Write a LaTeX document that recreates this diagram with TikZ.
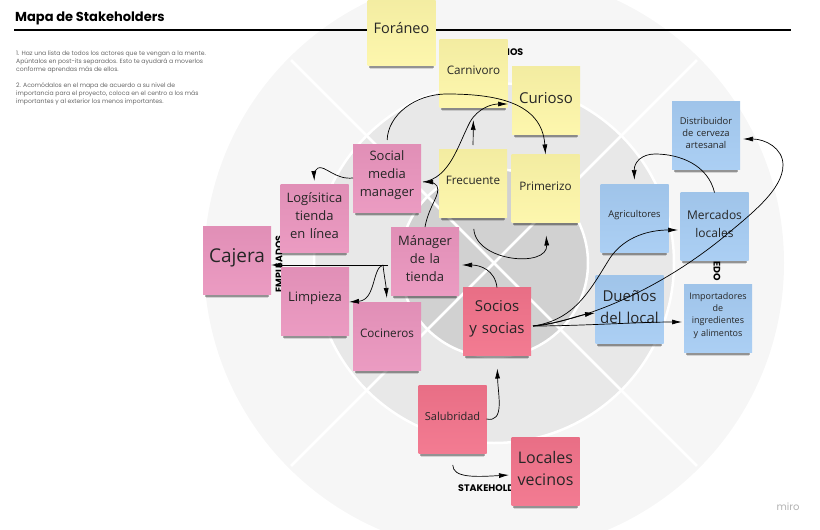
\documentclass[tikz,border=0pt]{standalone}
\usepackage{fontspec}
\setmainfont{Open Sans}
\newfontfamily\titlefont{Poppins}
\usetikzlibrary{arrows.meta, shadows}

\definecolor{yellownote}{HTML}{FDF6A8}
\definecolor{pinknote}{HTML}{EA95BE}
\definecolor{bluenote}{HTML}{A6CCF3}
\definecolor{rednote}{HTML}{F2738B}
\newcommand{\notegap}{\par\vspace{5pt}}

\begin{document}
\begin{tikzpicture}[
   x=1pt, y=-1pt,
   note/.style={
     rectangle,
     top color=#1!96!black,
     bottom color=#1!94!white,
     inner xsep=1pt,
     inner ysep=0pt,
     outer sep=0pt,
     minimum width=68pt,
     minimum height=68pt,
     text width=66pt,
     align=center,
     text=black!85,
     general shadow={fill=black, opacity=.14, shadow scale=.92, shadow xshift=0pt, shadow yshift=-7pt},
     general shadow={fill=black, opacity=.3, shadow scale=.95, shadow xshift=0pt, shadow yshift=-4.5pt},
     execute at end node=\notegap,
    },
   tiny/.style={font=\fontsize{9.4}{12.3}\selectfont},
   small/.style={font=\fontsize{11.7}{14}\selectfont},
   medium/.style={font=\fontsize{13}{18}\selectfont},
   large/.style={font=\fontsize{15}{22}\selectfont},
   huge/.style={font=\fontsize{19}{22}\selectfont},
   band/.style={font=\titlefont\bfseries\fontsize{9.5}{11}\selectfont, text=black, inner sep=0pt},
   arr/.style={-{Latex[length=10pt,width=5pt]}, black, line width=.7pt},
  ]

\clip (0,0) rectangle (820,530);
\coordinate (centre) at (494,263);

% rings of the map
\fill[black!3.5] (centre) circle [radius=290pt];
\filldraw[fill=black!9, draw=white, line width=2.5pt] (centre) circle [radius=180pt];
\filldraw[fill=black!18, draw=white, line width=2.5pt] (centre) circle [radius=94pt];
\foreach \a in {45,135,225,315} {
  \draw[white, line width=2.5pt] (centre) -- ++(\a:287pt);
}

% heading
\node[anchor=west, inner sep=0pt, font=\titlefont\bfseries\fontsize{13}{15}\selectfont] (title) at (15,18) {Mapa de Stakeholders};
\coordinate (ruleleft) at (14,30);
\coordinate (ruleright) at (791,30);
\draw[black, line width=1.2pt] (ruleleft) -- (ruleright);
\node[anchor=north west, inner sep=0pt, align=left, text=black!60, font=\titlefont\fontsize{6.1}{8}\selectfont] (steps) at (16,50.5) {1. Haz una lista de todos los actores que te vengan a la mente.\\
Apúntalos en post-its separados. Esto te ayudará a moverlos\\
conforme aprendas más de ellos.\\[8pt]
2. Acomódalos en el mapa de acuerdo a su nivel de\\
importancia para el proyecto, coloca en el centro a los más\\
importantes y al exterior los menos importantes.};
\node[text=black!30, inner sep=0pt, font=\titlefont\fontsize{10}{12}\selectfont] (brand) at (788,507) {miro};

% band names, under the notes
\node[band, anchor=west] (clientes) at (507,52) {IOS};
\node[band, rotate=90] (empleados) at (279,264) {EMPLEADOS};
\node[band, rotate=-90, anchor=west] (proveedores) at (717,261) {EDO};
\node[band, anchor=west] (stakeholders) at (458,488) {STAKEHOLD};

% notes
\node[note=yellownote, large, font=\fontsize{14.5}{22}\selectfont] (foraneo) at (401.5,31) {Foráneo};
\node[note=yellownote, small] (carnivoro) at (473.5,73) {Carnivoro};
\node[note=yellownote, large] (curioso) at (546,100.5) {Curioso};
\node[note=yellownote, small] (frecuente) at (473,183) {Frecuente};
\node[note=yellownote, small] (primerizo) at (545.5,188.5) {Primerizo};

\node[note=pinknote, medium] (social) at (387,178) {Social\\media\\manager};
\node[note=pinknote, medium] (logistica) at (314.5,218) {Logísitica\\tienda\\en línea};
\node[note=pinknote, huge] (cajera) at (237,260.5) {Cajera};
\node[note=pinknote, medium] (limpieza) at (315,301) {Limpieza};
\node[note=pinknote, medium] (manager) at (425,261) {Mánager\\de la\\tienda};
\node[note=pinknote, small] (cocineros) at (387,336) {Cocineros};

\node[note=rednote, large] (socios) at (497,321.5) {Socios\\y socias};
\node[note=rednote, small, font=\fontsize{11}{14}\selectfont] (salubridad) at (452.5,419) {Salubridad};
\node[note=rednote, large, font=\fontsize{16}{22}\selectfont] (locales) at (545.5,471) {Locales\\vecinos};

\node[note=bluenote, tiny] (distribuidor) at (706,135.5) {Distribuidor\\de cerveza\\artesanal};
\node[note=bluenote, tiny] (agricultores) at (634.5,218) {Agricultores};
\node[note=bluenote, medium, font=\fontsize{12}{18}\selectfont] (mercados) at (714.5,226.5) {Mercados\\locales};
\node[note=bluenote, large] (duenos) at (629.5,309.5) {Dueños\\del local};
\node[note=bluenote, tiny, font=\fontsize{9}{12.3}\selectfont] (importadores) at (718,318) {Importadores\\de\\ingredientes\\y alimentos};

% free ends
\coordinate (socialin) at (423,182);
\coordinate (curiosoin) at (508,104);
\coordinate (managerout) at (388,265);
\coordinate (managerin) at (462,265);
\coordinate (sociosout) at (533,326);
\coordinate (mercadosin) at (678,230);
\coordinate (distribuidorin) at (743,139);
\coordinate (duenosin) at (595,313);
\coordinate (importadoresin) at (682,322);
\coordinate (localesin) at (509,475);

% connectors
\draw[arr, shorten <=4pt] (social.north) .. controls (388,115) and (415,94) .. (447,94) .. controls (495,94) and (542,102) .. (primerizo.north);
\draw[arr, shorten <=4pt, shorten >=13pt] (frecuente.north) -- (carnivoro.south);
\draw[arr] (socialin) .. controls (450,178) and (458,145) .. (470,122) .. controls (478,108) and (492,104) .. (curiosoin);
\draw[arr] (manager.north) .. controls (429,205) and (441,195) .. (437,186) .. controls (435,183) and (430,182) .. (socialin);
\draw[arr, shorten >=3pt] (social.west) .. controls (335,180) and (325,165) .. (318,168) .. controls (315,170) and (314,175) .. (logistica.north);
\draw[arr] (managerout) -- (managerout -| cajera.east);
\draw[arr] (managerout) ++(-5,0) .. controls (372,268) and (376,300) .. (limpieza.east |- cocineros.north);
\draw[arr, shorten >=4pt] (managerout) ++(-5,0) .. controls (384,275) and (386,285) .. (cocineros.north);
\draw[arr] (socios.north) .. controls (495,270) and (480,265) .. (managerin);
\draw[arr, shorten <=12pt, shorten >=13pt] (frecuente.south) .. controls (476,262) and (548,268) .. (primerizo.south);
\draw[arr, shorten >=4pt] (mercados.north) .. controls (708,165) and (680,154) .. (655,154) .. controls (642,154) and (634,162) .. (agricultores.north);
\draw[arr] (sociosout) .. controls (575,320) and (590,290) .. (610,258) .. controls (625,236) and (650,230) .. (mercadosin);
\draw[arr] (sociosout) .. controls (600,318) and (670,280) .. (720,240) .. controls (750,215) and (783,190) .. (783,165) .. controls (783,148) and (765,139) .. (distribuidorin);
\draw[arr] (sociosout) .. controls (555,325) and (575,316) .. (duenosin);
\draw[arr] (sociosout) .. controls (580,326) and (640,322) .. (importadoresin);
\draw[arr, shorten >=13pt] (salubridad.east) .. controls (505,423) and (498,395) .. (socios.south);
\draw[arr, shorten <=12pt] (salubridad.south) .. controls (453,478) and (475,477) .. (localesin);
\end{tikzpicture}
\end{document}
